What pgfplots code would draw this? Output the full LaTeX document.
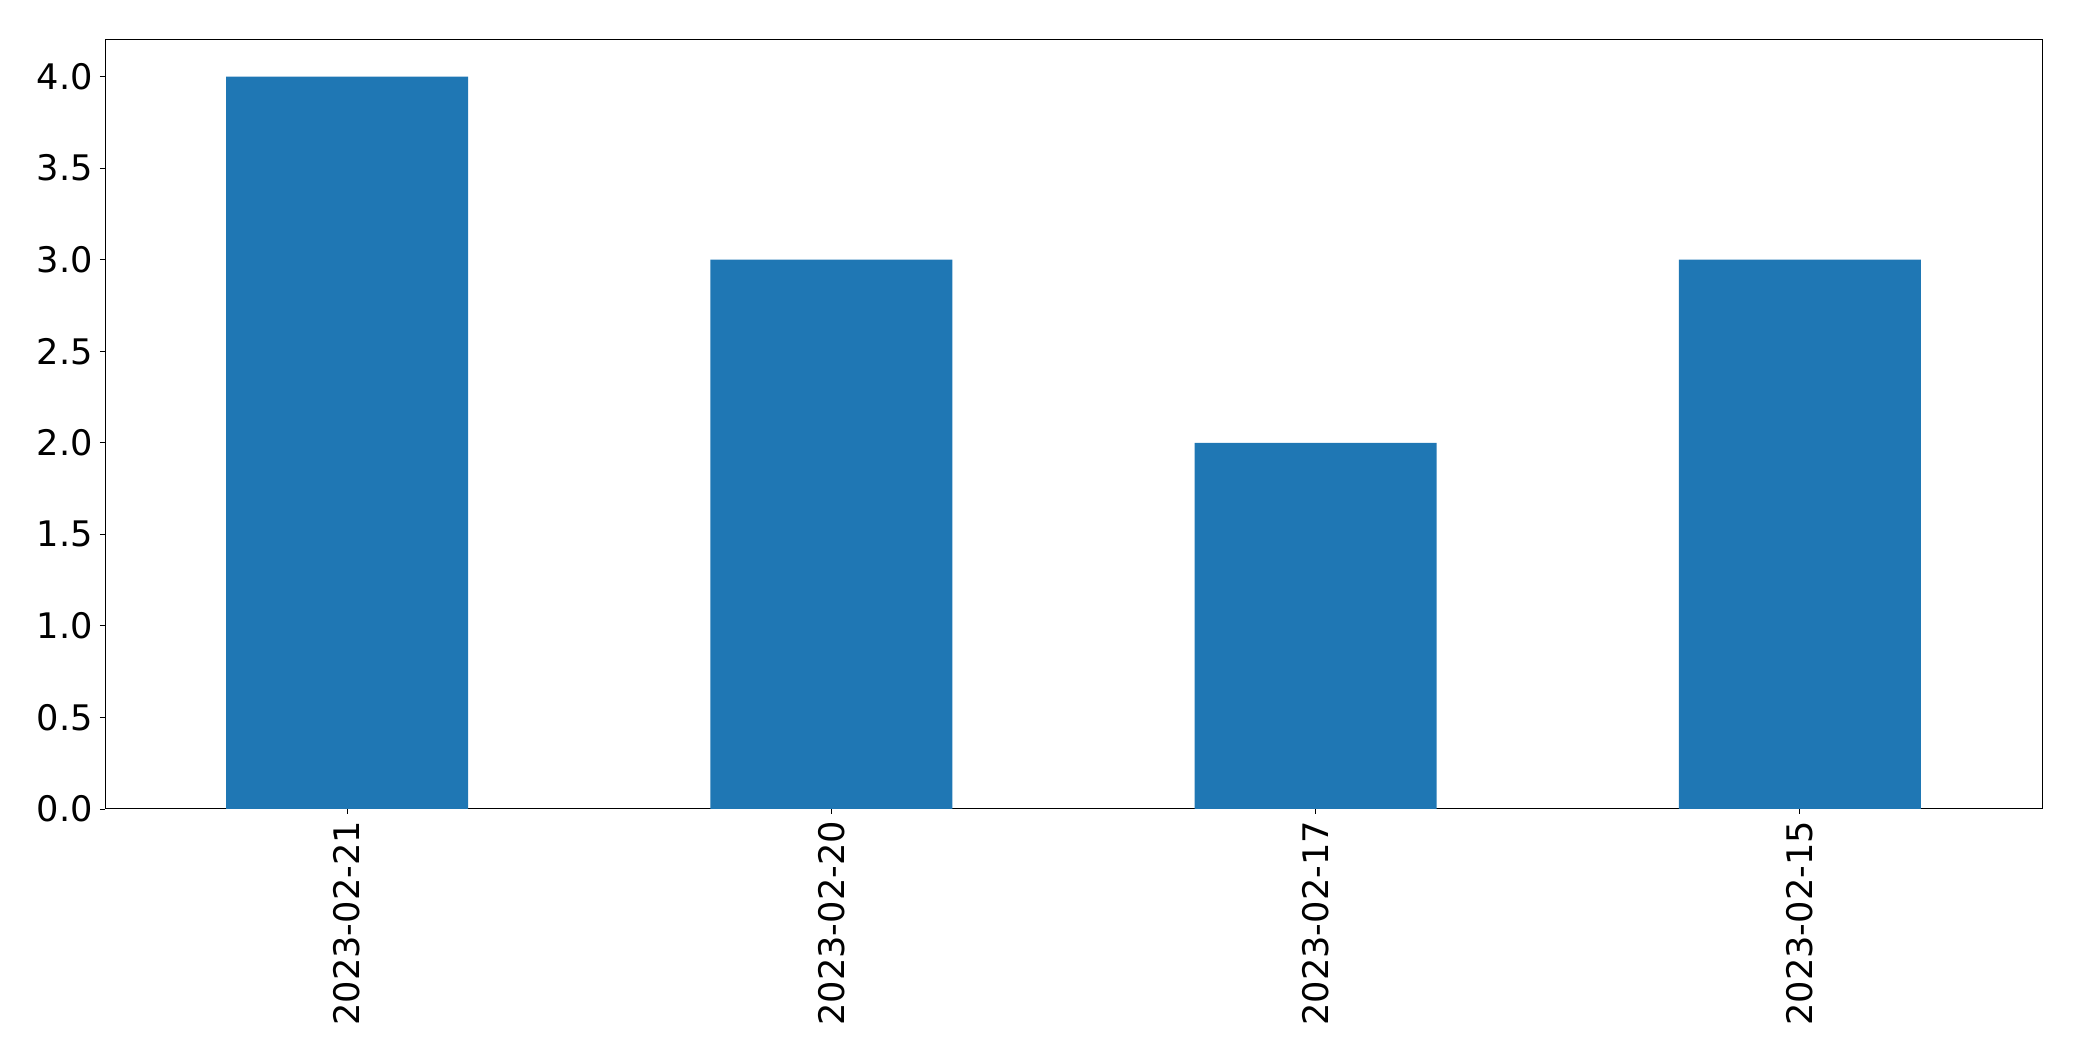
\documentclass[border=0pt]{standalone}
\usepackage{pgfplots}
\pgfplotsset{compat=1.18}
\usepackage{fontspec}
\setmainfont{DejaVu Sans}
\definecolor{mplblue}{HTML}{1F77B4}
\begin{document}
\begin{tikzpicture}
\begin{axis}[
  scale only axis,
  width=968.5pt, height=384.5pt,
  xmin=-0.5, xmax=3.5, ymin=0, ymax=4.2,
  xtick={0,1,2,3},
  xticklabels={2023-02-21,2023-02-20,2023-02-17,2023-02-15},
  ytick={0,0.5,1,1.5,2,2.5,3,3.5,4},
  yticklabel style={/pgf/number format/.cd, fixed, fixed zerofill, precision=1, assume math mode=true},
  xticklabel style={rotate=90, anchor=east, font=\fontsize{17.6}{20}\selectfont},
  every tick label/.append style={font=\fontsize{17.6}{20}\selectfont},
  tick align=outside,
  major tick length=2.5pt,
  tick style={black, line width=0.4pt},
  xtick pos=bottom, ytick pos=left,
  axis line style={black, line width=0.5pt},
  ybar, bar width=0.5,
  ymajorgrids=false,
  clip=false,
]
\addplot[fill=mplblue, draw=none, bar shift=0pt] coordinates {(0,4) (1,3) (2,2) (3,3)};
\end{axis}
\pgfresetboundingbox
\useasboundingbox ([shift={(-52.5pt,-126pt)}]current axis.south west) rectangle ([shift={(20pt,20pt)}]current axis.north east);
\end{tikzpicture}
\end{document}
